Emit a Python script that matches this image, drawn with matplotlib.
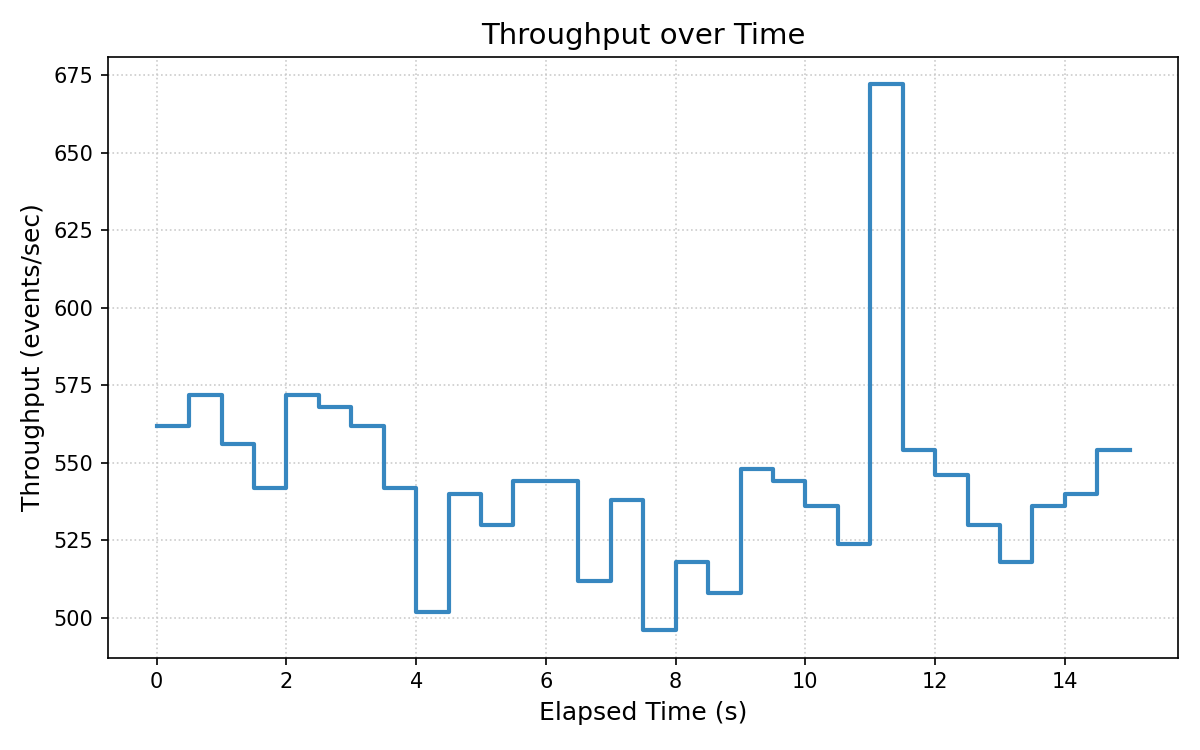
import matplotlib

matplotlib.use("Agg")
import matplotlib.pyplot as plt
import numpy as np

# elapsed time in seconds, sampled every 0.5 s
elapsed_s = np.arange(0, 15.5, 0.5)
throughput = [
    562, 572, 556, 542, 572, 568, 562, 542, 502, 540,
    530, 544, 544, 512, 538, 496, 518, 508, 548, 544,
    536, 524, 672, 554, 546, 530, 518, 536, 540, 554,
    554,
]

fig = plt.figure(figsize=(8, 5), dpi=150)
ax = fig.add_axes([0.09, 0.123, 0.892, 0.801])
ax.step(elapsed_s, throughput, where="post", color="#3787c0", linewidth=2)

ax.set_title("Throughput over Time", fontsize=14)
ax.set_xlabel("Elapsed Time (s)", fontsize=12)
ax.set_ylabel("Throughput (events/sec)", fontsize=12)
ax.grid(True, linestyle=":", color="#cccccc", linewidth=0.8)

fig.savefig("out.png", dpi=150)
